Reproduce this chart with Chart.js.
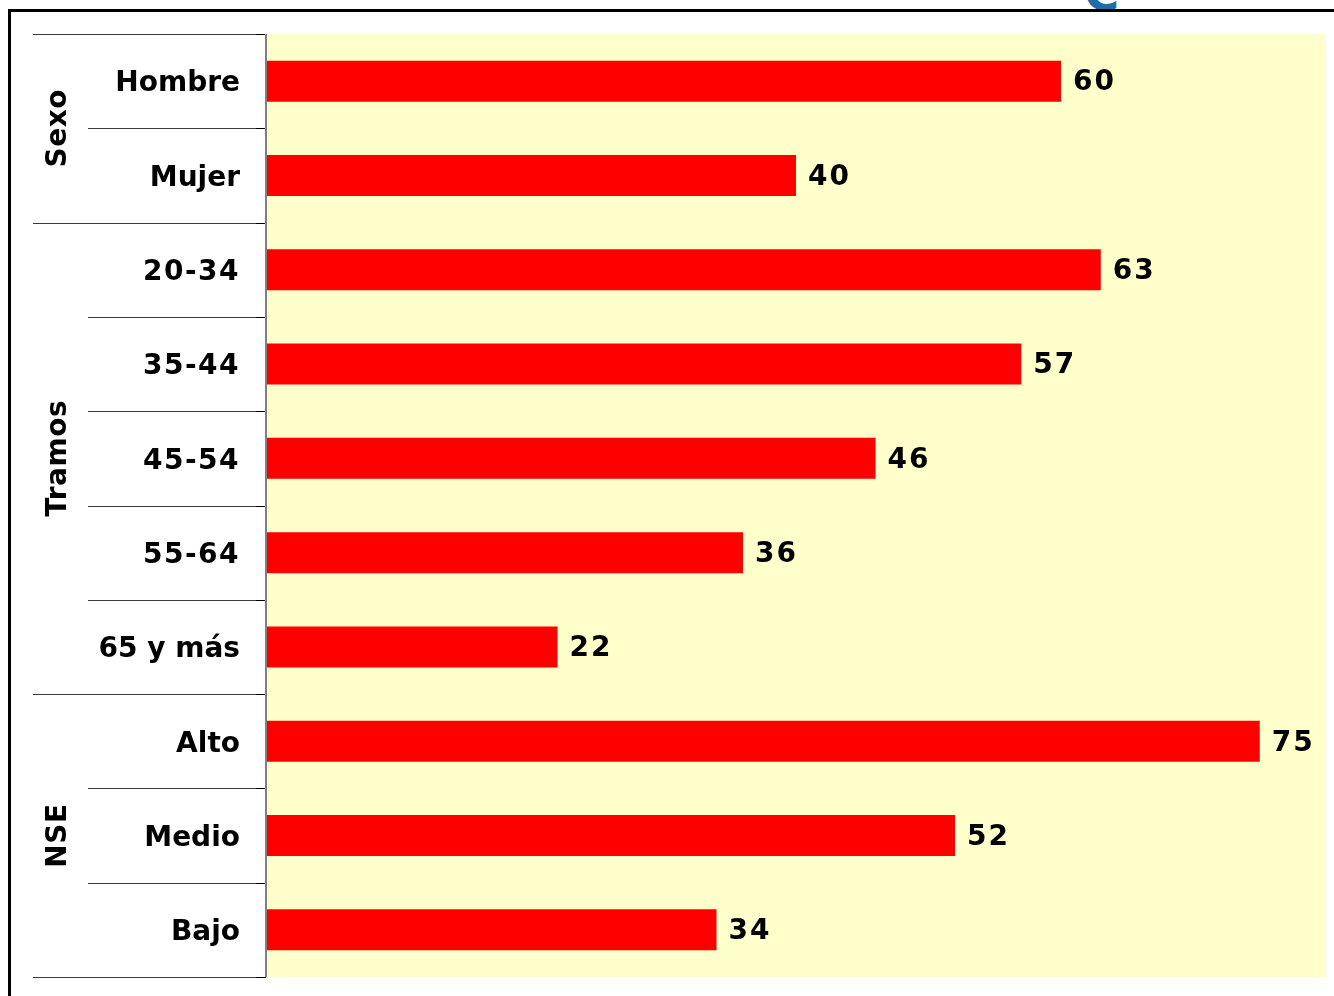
<!DOCTYPE html>
<html>
<head>
<meta charset="utf-8">
<script src="https://cdn.jsdelivr.net/npm/chart.js@4/dist/chart.umd.min.js"></script>
<style>
  body { margin: 0; background: #fff; }
  #wrap { position: relative; width: 1334px; height: 996px; overflow: hidden; }
  #marco { position: absolute; left: 8px; top: 9px; right: -10px; bottom: -10px;
           border-top: 3px solid #000; border-left: 3px solid #000; }
  #logo { position: absolute; left: 1084px; top: 0; width: 44px; height: 10px; overflow: hidden; }
  #logo span { position: absolute; left: 0; top: -31px; font: bold 48px "DejaVu Sans";
               line-height: 48px; color: #1d6ea8; }
  canvas { position: absolute; left: 0; top: 0; }
</style>
</head>
<body>
<div id="wrap">
  <div id="logo"><span>C</span></div>
  <div id="marco"></div>
  <canvas id="cvs_grafico" width="1334" height="996"></canvas>
</div>
<script>
// categorias e valores (%)
const categorias = ["Hombre", "Mujer", "20-34", "35-44", "45-54", "55-64", "65 y más", "Alto", "Medio", "Bajo"];
const valores = [60, 40, 63, 57, 46, 36, 22, 75, 52, 34];

// grupos: nome, primeira e última categoria
const grupos = ["Sexo", "Tramos", "NSE"];
const grupoInicio = [0, 2, 7];
const grupoFim = [1, 6, 9];

const FONTE = 'bold 28px "DejaVu Sans"';

// fundo amarelo, linhas separadoras, rótulos e valores
const desenhoExtra = {
  id: "desenhoExtra",
  beforeDraw(chart) {
    const { ctx, chartArea } = chart;
    ctx.save();
    ctx.fillStyle = "#FFFFCC";
    ctx.fillRect(chartArea.left, chartArea.top, chartArea.right - chartArea.left, chartArea.bottom - chartArea.top);
    ctx.restore();
  },
  afterDraw(chart) {
    const { ctx, chartArea } = chart;
    const y = chart.scales.y;
    const passo = (chartArea.bottom - chartArea.top) / categorias.length;

    ctx.save();
    // linhas entre categorias
    for (let i = 0; i <= categorias.length; i++) {
      const py = Math.round(y.getPixelForValue(i) - passo / 2) + 0.5;
      let inicio = 88;
      if (i == 0 || i == categorias.length || grupoInicio.includes(i)) inicio = 33;
      ctx.strokeStyle = "#3a3a3a";
      ctx.lineWidth = 1;
      ctx.beginPath();
      ctx.moveTo(inicio, py);
      ctx.lineTo(chartArea.left, py);
      ctx.stroke();
      ctx.strokeStyle = "#000";
      ctx.beginPath();
      ctx.moveTo(chartArea.left - 10, py);
      ctx.lineTo(chartArea.left, py);
      ctx.stroke();
    }

    // eixo vertical
    ctx.strokeStyle = "#808080";
    ctx.lineWidth = 2;
    ctx.beginPath();
    ctx.moveTo(chartArea.left, chartArea.top);
    ctx.lineTo(chartArea.left, chartArea.bottom);
    ctx.stroke();

    ctx.fillStyle = "#000";
    ctx.font = FONTE;
    ctx.textBaseline = "middle";

    // nomes das categorias (faixas de idade um pouco espaçadas)
    ctx.textAlign = "right";
    categorias.forEach((cat, i) => {
      ctx.letterSpacing = /^\d+-\d+$/.test(cat) ? "1.5px" : "0px";
      ctx.fillText(cat, 240, y.getPixelForValue(i) + 3);
    });

    // nomes dos grupos, girados
    ctx.textAlign = "center";
    ctx.letterSpacing = "0.5px";
    for (let g = 0; g < grupos.length; g++) {
      const cy = (y.getPixelForValue(grupoInicio[g]) + y.getPixelForValue(grupoFim[g])) / 2;
      ctx.save();
      ctx.translate(59, cy);
      ctx.rotate(-Math.PI / 2);
      ctx.fillText(grupos[g], 0, 0);
      ctx.restore();
    }

    // valores na ponta das barras
    ctx.textAlign = "left";
    ctx.letterSpacing = "2px";
    const barras = chart.getDatasetMeta(0).data;
    barras.forEach((barra, i) => {
      ctx.fillText(valores[i], barra.x + 12, barra.y + 2);
    });
    ctx.restore();
  },
};

new Chart(document.getElementById("cvs_grafico"), {
  type: "bar",
  data: {
    labels: categorias,
    datasets: [
      {
        data: valores,
        backgroundColor: "#FF0000",
        borderWidth: 0,
        categoryPercentage: 1,
        barPercentage: 0.435,
      },
    ],
  },
  options: {
    indexAxis: "y",
    responsive: false,
    animation: false,
    layout: { padding: { left: 266, right: 8, top: 34, bottom: 19 } },
    plugins: { legend: { display: false }, tooltip: { enabled: false } },
    scales: {
      x: { display: false, min: 0, max: 80 },
      y: { display: false },
    },
  },
  plugins: [desenhoExtra],
});
</script>
</body>
</html>
